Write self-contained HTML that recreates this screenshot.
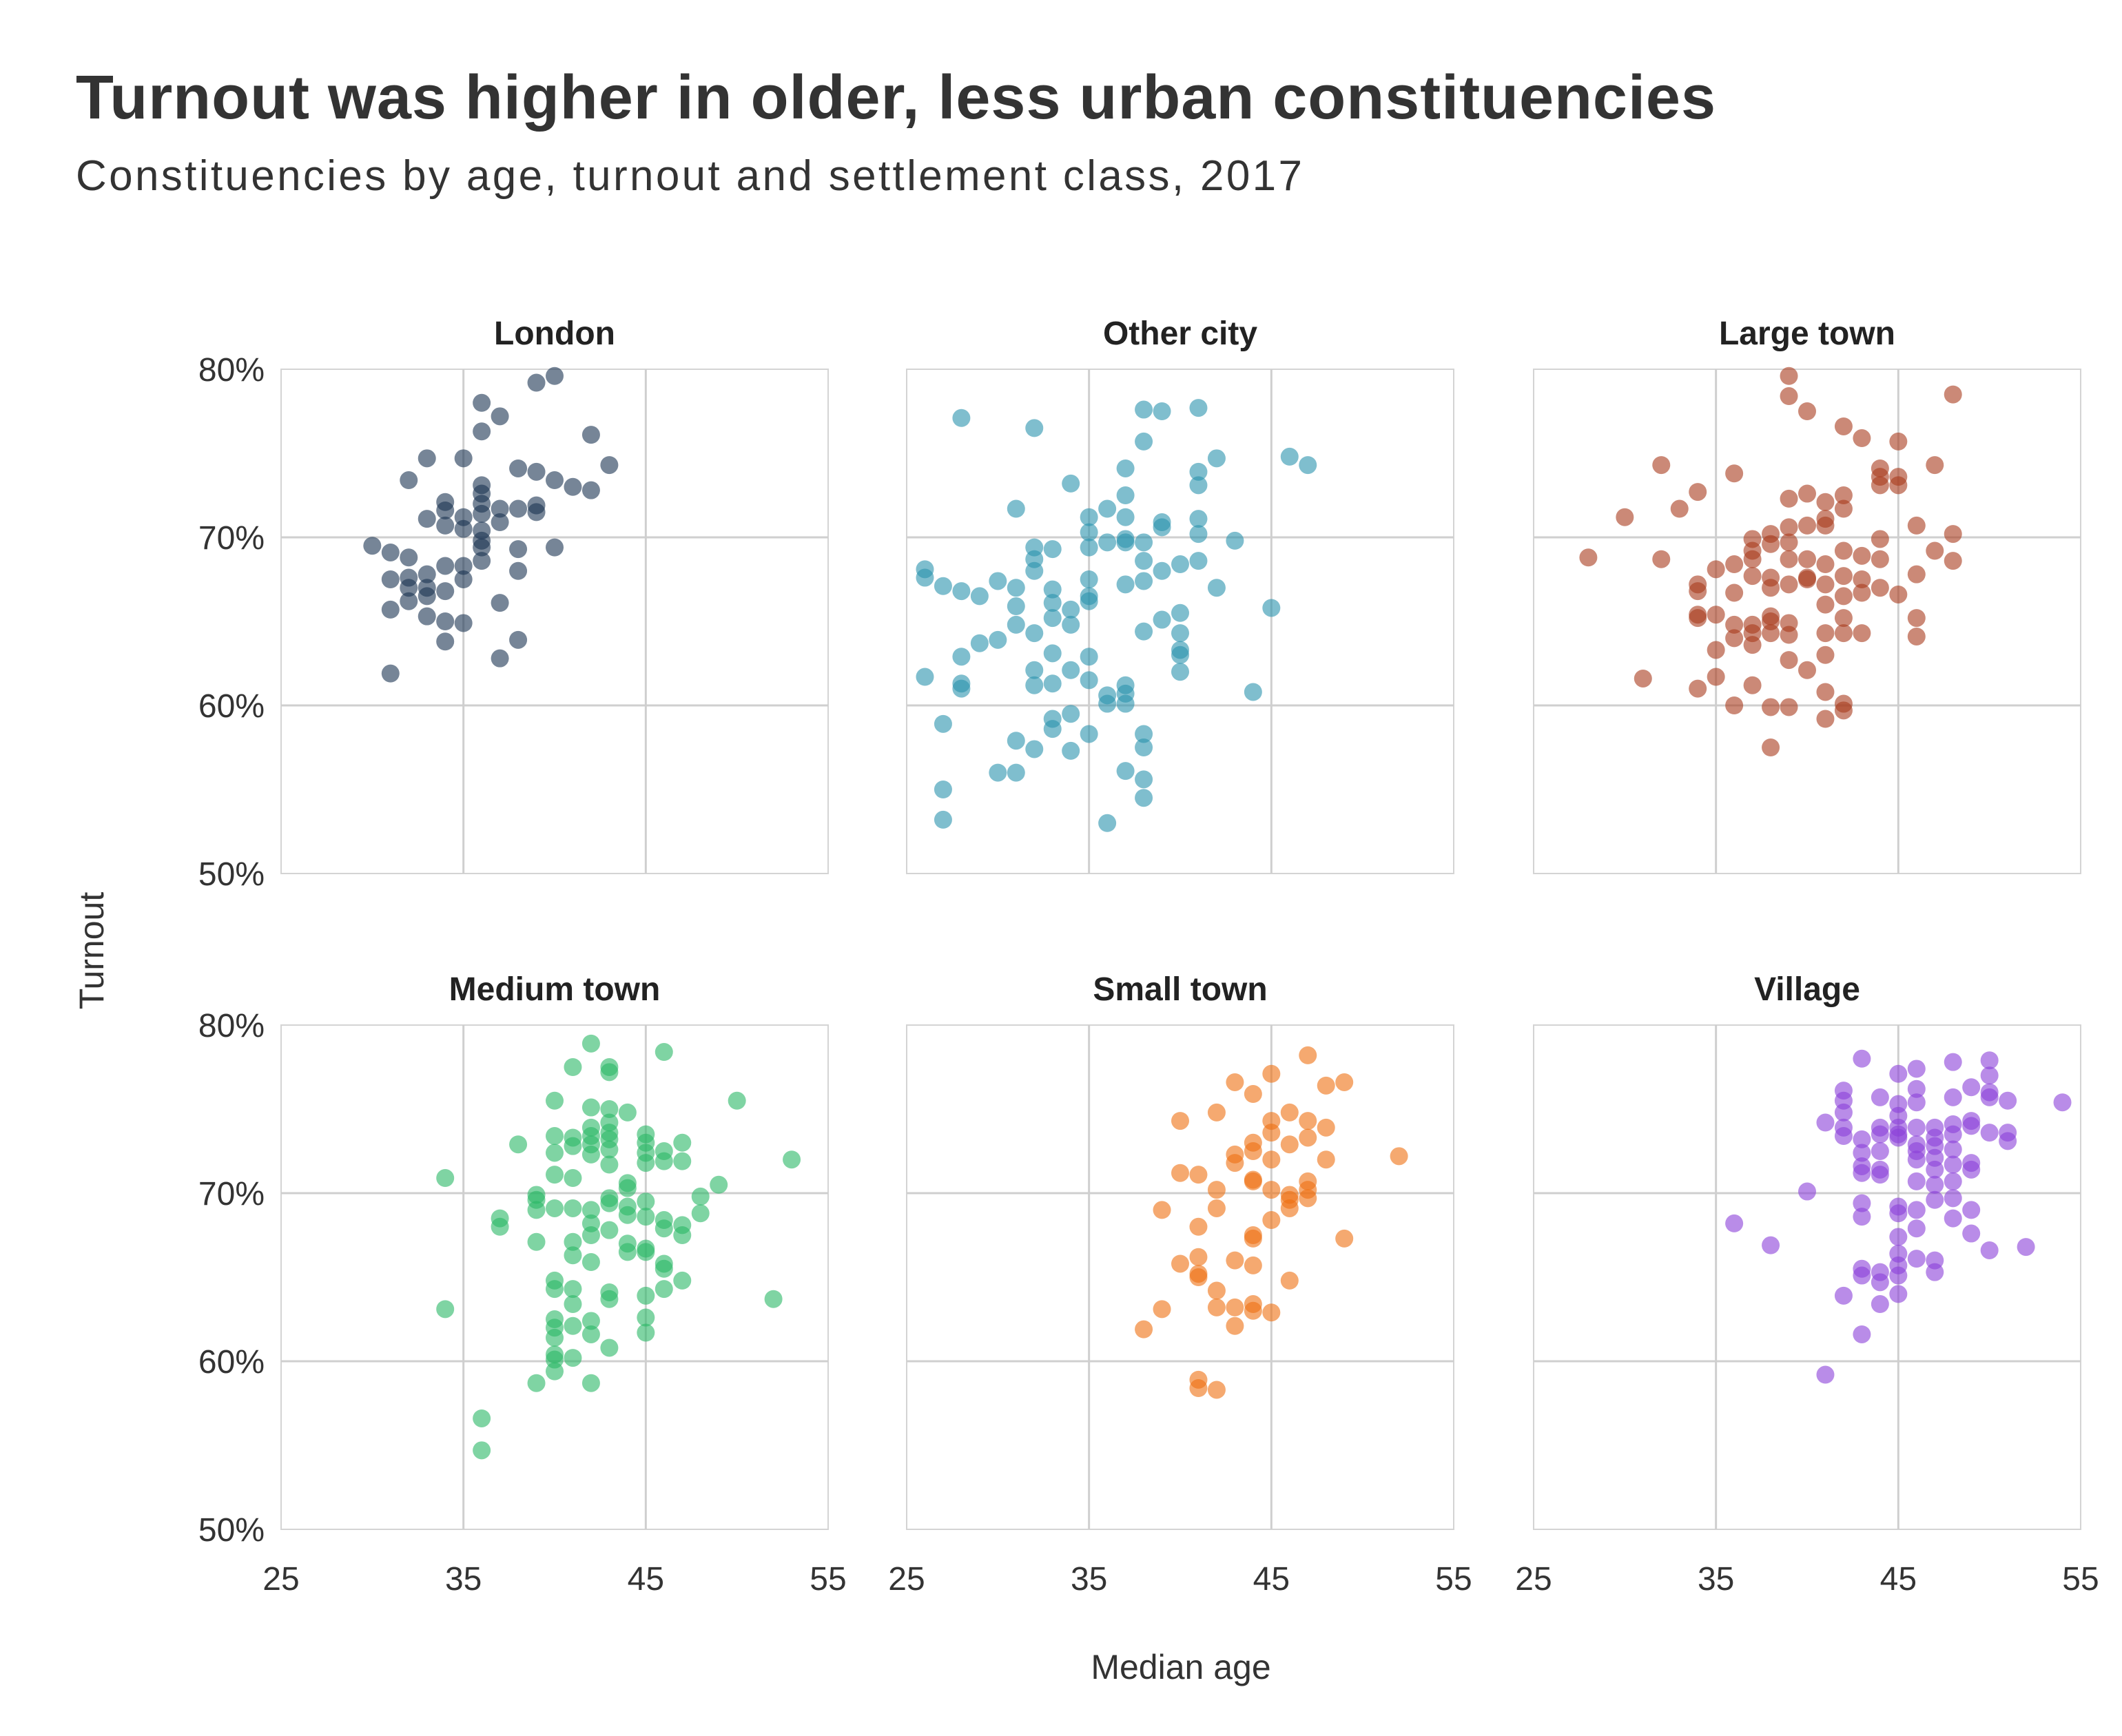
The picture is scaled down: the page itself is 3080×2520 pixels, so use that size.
<!DOCTYPE html>
<html><head><meta charset="utf-8"><style>
html,body{margin:0;padding:0;background:#fff;}
svg{display:block;font-family:"Liberation Sans",sans-serif;}
</style></head><body>
<svg id="chart" width="3080" height="2520" viewBox="0 0 3080 2520" xmlns="http://www.w3.org/2000/svg">
<rect width="3080" height="2520" fill="#fff"/>
<text x="110" y="172" font-size="90" font-weight="bold" fill="#333" textLength="2380">Turnout was higher in older, less urban constituencies</text>
<text x="110" y="276" font-size="62" fill="#333" textLength="1780">Constituencies by age, turnout and settlement class, 2017</text>
<text transform="translate(150,1380) rotate(-90)" text-anchor="middle" font-size="50" fill="#333">Turnout</text>
<text x="1714" y="2437" text-anchor="middle" font-size="50" fill="#333">Median age</text>
<g id="panels"></g>
</svg>
<script>
const panelNames = ["London","Other city","Large town","Medium town","Small town","Village"];
const panelColors = ["#1b3452","#2a93ad","#a83a1c","#2ab865","#ee7011","#8a3fd8"];
const xTicks = [25,35,45,55];
const yTicks = [50,60,70,80];
const londonAge = [30,31,31,31,31,32,32,32,32,32,33,33,33,33,33,33,34,34,34,34,34,34,34,35,35,35,35,35,35,36,36,36,36,36,36,36,36,36,36,37,37,37,37,37,38,38,38,38,38,39,39,39,39,40,40,40,41,42,42,43];
const londonTurnout = [69.5,69.1,67.5,65.7,61.9,68.8,67.6,67.0,66.2,73.4,74.7,71.1,67.8,67.0,66.5,65.3,72.1,71.6,70.7,68.3,66.8,65.0,63.8,74.7,71.2,70.5,68.3,67.5,64.9,78.0,76.3,73.1,72.6,72.0,71.4,70.4,69.8,69.4,68.6,77.2,71.7,70.9,66.1,62.8,74.1,71.7,69.3,68.0,63.9,79.2,73.9,71.9,71.5,79.6,73.4,69.4,73.0,76.1,72.8,74.3];
const cityAge = [26,26,26,27,27,27,27,28,28,28,28,28,29,29,30,30,30,31,31,31,31,31,31,32,32,32,32,32,32,32,32,33,33,33,33,33,33,33,33,34,34,34,34,34,34,35,35,35,35,35,35,35,35,35,36,36,36,36,36,37,37,37,37,37,37,37,37,37,37,38,38,38,38,38,38,38,38,38,38,39,39,39,39,39,40,40,40,40,40,40,41,41,41,41,41,41,42,42,43,44,45,46,47];
const cityTurnout = [68.1,67.6,61.7,67.1,58.9,55.0,53.2,77.1,66.8,62.9,61.3,61.0,66.5,63.7,67.4,63.9,56.0,71.7,67.0,65.9,64.8,57.9,56.0,76.5,69.4,68.7,68.0,64.3,62.1,61.2,57.4,69.3,66.9,66.1,65.2,63.1,61.3,59.2,58.6,73.2,65.7,64.8,62.1,59.5,57.3,71.2,70.3,69.4,67.5,66.5,66.2,62.9,61.5,58.3,71.7,69.7,60.6,60.1,53.0,74.1,72.5,71.2,69.9,69.7,67.2,61.2,60.7,60.1,56.1,77.6,75.7,69.7,68.6,67.4,64.4,58.3,57.5,55.6,54.5,77.5,70.9,70.6,68.0,65.1,68.4,65.5,64.3,63.3,63.0,62.0,77.7,73.9,73.1,71.1,70.2,68.6,74.7,67.0,69.8,60.8,65.8,74.8,74.3];
const largeAge = [28,30,31,32,32,33,34,34,34,34,34,34,35,35,35,35,36,36,36,36,36,36,37,37,37,37,37,37,37,37,38,38,38,38,38,38,38,38,38,39,39,39,39,39,39,39,39,39,39,39,40,40,40,40,40,40,40,41,41,41,41,41,41,41,41,41,41,42,42,42,42,42,42,42,42,42,42,43,43,43,43,43,44,44,44,44,44,44,45,45,45,45,46,46,46,46,47,47,48,48,48];
const largeTurnout = [68.8,71.2,61.6,74.3,68.7,71.7,72.7,67.2,66.8,65.4,65.2,61.0,68.1,65.4,63.3,61.7,73.8,68.4,66.7,64.8,64.0,60.0,69.9,69.2,68.7,67.7,64.8,64.3,63.6,61.2,70.2,69.6,67.6,67.0,65.3,65.0,64.3,59.9,57.5,79.6,78.4,72.3,70.6,69.7,68.7,67.2,64.9,64.2,62.7,59.9,77.5,72.6,70.7,68.7,67.6,67.5,62.1,72.1,71.1,70.7,68.4,67.2,66.0,64.3,63.0,60.8,59.2,76.6,72.5,71.7,69.2,67.7,66.5,65.2,64.3,60.1,59.7,75.9,68.9,67.5,66.7,64.3,74.1,73.6,73.1,69.9,68.7,67.0,75.7,73.6,73.1,66.6,70.7,67.8,65.2,64.1,74.3,69.2,78.5,70.2,68.6];
const mediumAge = [34,34,36,36,37,37,38,39,39,39,39,39,40,40,40,40,40,40,40,40,40,40,40,40,40,41,41,41,41,41,41,41,41,41,41,41,42,42,42,42,42,42,42,42,42,42,42,42,42,43,43,43,43,43,43,43,43,43,43,43,43,43,43,44,44,44,44,44,44,44,45,45,45,45,45,45,45,45,45,45,45,46,46,46,46,46,46,46,46,47,47,47,47,47,48,48,49,50,52,53];
const mediumTurnout = [70.9,63.1,56.6,54.7,68.5,68.0,72.9,69.9,69.6,69.0,67.1,58.7,75.5,73.4,72.4,71.1,69.1,64.8,64.3,62.5,62.0,61.4,60.4,60.1,59.4,77.5,73.3,72.8,70.9,69.1,67.1,66.3,64.3,63.4,62.1,60.2,78.9,75.1,73.9,73.4,72.9,72.3,69.0,68.2,67.5,65.9,62.4,61.6,58.7,77.5,77.2,75.0,74.2,73.6,73.2,72.6,71.7,69.7,69.4,67.8,64.1,63.7,60.8,74.8,70.6,70.3,69.2,68.7,67.0,66.5,73.5,73.0,72.4,71.8,69.5,68.6,66.7,66.5,63.9,62.6,61.7,78.4,72.5,71.9,68.4,67.9,65.8,65.5,64.3,73.0,71.9,68.1,67.5,64.8,69.8,68.8,70.5,75.5,63.7,72.0];
const smallAge = [38,39,39,40,40,40,41,41,41,41,41,41,41,42,42,42,42,42,42,43,43,43,43,43,43,44,44,44,44,44,44,44,44,44,44,45,45,45,45,45,45,45,46,46,46,46,46,46,47,47,47,47,47,47,48,48,48,49,49,52];
const smallTurnout = [61.9,69.0,63.1,74.3,71.2,65.8,71.1,68.0,66.2,65.2,65.0,58.9,58.4,74.8,70.2,69.1,64.2,63.2,58.3,76.6,72.3,71.8,66.0,63.2,62.1,75.9,73.0,72.5,70.8,70.7,67.5,67.3,65.7,63.4,63.0,77.1,74.3,73.6,72.0,70.2,68.4,62.9,74.8,72.9,69.9,69.6,69.1,64.8,78.2,74.3,73.3,70.7,70.2,69.7,76.4,73.9,72.0,76.6,67.3,72.2];
const villageAge = [36,38,40,41,41,42,42,42,42,42,42,43,43,43,43,43,43,43,43,43,43,44,44,44,44,44,44,44,44,44,45,45,45,45,45,45,45,45,45,45,45,45,45,46,46,46,46,46,46,46,46,46,46,46,47,47,47,47,47,47,47,47,47,48,48,48,48,48,48,48,48,48,49,49,49,49,49,49,49,50,50,50,50,50,50,51,51,51,52,54];
const villageTurnout = [68.2,66.9,70.1,59.2,74.2,76.1,75.5,74.8,73.9,73.4,63.9,78.0,73.2,72.4,71.6,71.2,69.4,68.6,65.5,65.1,61.6,75.7,73.9,73.5,72.5,71.4,71.1,65.3,64.7,63.4,77.1,75.3,74.6,73.9,73.5,73.3,69.2,68.8,67.4,66.4,65.7,65.1,64.0,77.4,76.2,75.4,73.9,72.9,72.5,72.0,70.7,69.0,67.9,66.1,73.9,73.3,72.8,72.1,71.4,70.5,69.6,66.0,65.3,77.8,75.7,74.1,73.5,72.6,71.7,70.7,69.7,68.5,76.3,74.3,74.0,71.8,71.4,69.0,67.6,77.9,77.0,76.0,75.7,73.6,66.6,75.5,73.6,73.1,66.8,75.4];
const panelAges = [londonAge,cityAge,largeAge,mediumAge,smallAge,villageAge];
const panelTurnouts = [londonTurnout,cityTurnout,largeTurnout,mediumTurnout,smallTurnout,villageTurnout];

const NS = "http://www.w3.org/2000/svg";
const root = document.getElementById("panels");
const colX = [408,1316,2226], rowY = [536,1488], PW = 794, PH = 732;
function mk(tag, attrs, parent){const e=document.createElementNS(NS,tag);for(const k in attrs)e.setAttribute(k,attrs[k]);parent.appendChild(e);return e;}
panelNames.forEach((name,i)=>{
  const col=i%3,row=Math.floor(i/3),x0=colX[col],y0=rowY[row];
  const sx=v=>x0+(v-25)/30*PW;
  const sy=v=>y0+PH-(v-50)/30*PH;
  const g=mk("g",{},root);
  
  
  const fr=mk("rect",{x:x0,y:y0,width:PW,height:PH,fill:"none",stroke:"#d4d4d4","stroke-width":2},g);
  
  
  [35,45].forEach(v=>{const l=mk("line",{x1:sx(v),x2:sx(v),y1:y0,y2:y0+PH,stroke:"#cfcfcf","stroke-width":3},g);
    
    });
  [60,70].forEach(v=>{const l=mk("line",{x1:x0,x2:x0+PW,y1:sy(v),y2:sy(v),stroke:"#cfcfcf","stroke-width":3},g);
    
    });
  const t=mk("text",{x:x0+PW/2,y:y0-36,"text-anchor":"middle","font-size":48,"font-weight":"bold",fill:"#222"},g);
  t.textContent=name;
  
  
  if(col===0){yTicks.forEach(v=>{const tt=mk("text",{x:x0-24,y:sy(v)+17,"text-anchor":"end","font-size":48,fill:"#333"},g);
    tt.textContent=v+"%";
    
    });}
  if(row===1){xTicks.forEach(v=>{const tt=mk("text",{x:sx(v),y:y0+PH+88,"text-anchor":"middle","font-size":48,fill:"#333"},g);
    tt.textContent=v;
    
    });}
  const ages=panelAges[i],tur=panelTurnouts[i];
  ages.forEach((a,j)=>{const c=mk("circle",{cx:sx(a),cy:sy(tur[j]),r:13,fill:panelColors[i],"fill-opacity":0.6},g);
    
    });
});
</script>
</body></html>
